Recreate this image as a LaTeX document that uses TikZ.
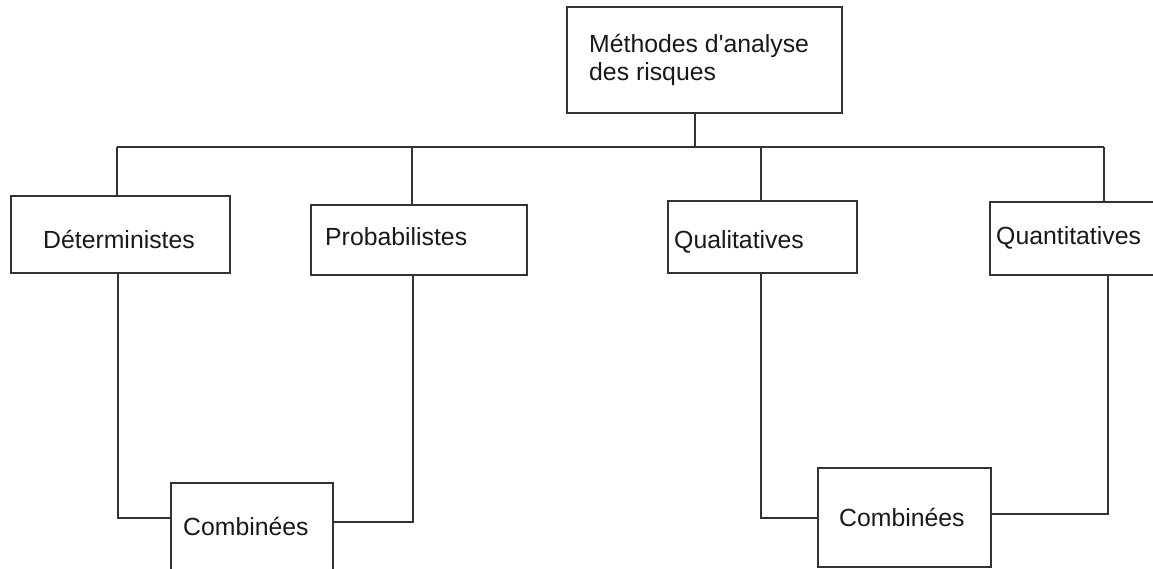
\documentclass[tikz,border=0pt]{standalone}
\usepackage{fontspec}
\setmainfont{Liberation Sans}
\newfontfamily\lsans{Liberation Sans}
\begin{document}
\begin{tikzpicture}[x=1pt,y=-1pt,
  box/.style={draw=black!80, line width=1.6pt, fill=white, rectangle, inner sep=0pt},
  lbl/.style={anchor=base west, inner sep=0pt, font=\lsans\fontsize{24.8}{28}\selectfont, text=black!90},
  link/.style={draw=black!80, line width=1.6pt}]
\useasboundingbox (0,0) rectangle (1153,569);
% boxes
\node[box, minimum width=275pt, minimum height=106pt] (top) at (704.5,60) {};
\node[box, minimum width=219pt, minimum height=77pt] (det) at (120.5,234.5) {};
\node[box, minimum width=216pt, minimum height=70pt] (prob) at (419,240) {};
\node[box, minimum width=189pt, minimum height=72pt] (qual) at (762.5,237) {};
\node[box, minimum width=175pt, minimum height=73pt] (quant) at (1077.5,238.5) {};
\node[box, minimum width=162pt, minimum height=127pt] (comb1) at (252,546.5) {};
\node[box, minimum width=173pt, minimum height=99pt] (comb2) at (904.5,517.5) {};
% labels
\node[lbl] (topA) at (589,53) {Méthodes d'analyse};
\node[lbl] (topB) at (589,81) {des risques};
\node[lbl] (detT) at (43,249) {Déterministes};
\node[lbl] (probT) at (325,246) {Probabilistes};
\node[lbl] (qualT) at (674,249) {Qualitatives};
\node[lbl] (quantT) at (996,245) {Quantitatives};
\node[lbl] (comb1T) at (183,535) {Combinées};
\node[lbl] (comb2T) at (839,526) {Combinées};
% bus coordinates
\coordinate (b0) at (695,147);
\coordinate (b1) at (117,147);
\coordinate (b2) at (412,147);
\coordinate (b3) at (761,147);
\coordinate (b4) at (1104,147);
\coordinate (l1) at (118,518);
\coordinate (r1) at (413,522);
\coordinate (l2) at (761,518);
\coordinate (r2) at (1108,514);
% connectors
\draw[link] (b0 |- top.south) -- (b0);
\draw[link] (b1) -- (b4);
\draw[link] (b1) -- (b1 |- det.north);
\draw[link] (b2) -- (b2 |- prob.north);
\draw[link] (b3) -- (b3 |- qual.north);
\draw[link] (b4) -- (b4 |- quant.north);
\draw[link] (l1 |- det.south) -- (l1) -- (l1 -| comb1.west);
\draw[link] (comb1.east |- r1) -- (r1) -- (r1 |- prob.south);
\draw[link] (l2 |- qual.south) -- (l2) -- (l2 -| comb2.west);
\draw[link] (comb2.east |- r2) -- (r2) -- (r2 |- quant.south);
\end{tikzpicture}
\end{document}
